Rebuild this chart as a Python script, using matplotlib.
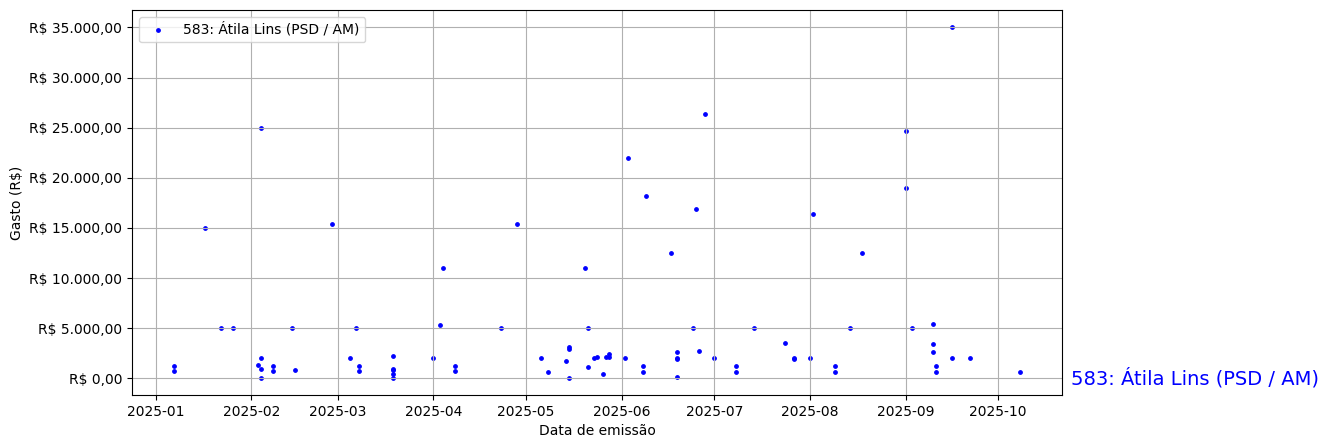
import matplotlib
matplotlib.use("Agg")
import matplotlib.pyplot as plt
import matplotlib.ticker as mticker
import matplotlib.transforms as mtransforms
import pandas as pd

# dados
deputado = "583: Átila Lins (PSD / AM)"

datas = [
    "2025-01-07", "2025-01-07", "2025-01-17", "2025-01-22", "2025-01-26",
    "2025-02-03", "2025-02-04", "2025-02-04", "2025-02-04", "2025-02-04",
    "2025-02-08", "2025-02-08", "2025-02-14", "2025-02-15", "2025-02-27",
    "2025-03-05", "2025-03-07", "2025-03-08", "2025-03-08",
    "2025-03-19", "2025-03-19", "2025-03-19", "2025-03-19", "2025-03-19",
    "2025-04-01", "2025-04-03", "2025-04-04", "2025-04-08", "2025-04-08",
    "2025-04-23", "2025-04-28",
    "2025-05-06", "2025-05-08", "2025-05-14", "2025-05-15", "2025-05-15",
    "2025-05-15", "2025-05-20", "2025-05-21", "2025-05-21", "2025-05-23",
    "2025-05-24", "2025-05-26", "2025-05-27", "2025-05-28", "2025-05-28",
    "2025-06-02", "2025-06-03", "2025-06-08", "2025-06-08", "2025-06-09",
    "2025-06-17", "2025-06-19", "2025-06-19", "2025-06-19", "2025-06-19",
    "2025-06-24", "2025-06-25", "2025-06-26", "2025-06-28",
    "2025-07-01", "2025-07-08", "2025-07-08", "2025-07-14", "2025-07-24",
    "2025-07-27", "2025-07-27",
    "2025-08-01", "2025-08-02", "2025-08-09", "2025-08-09", "2025-08-14",
    "2025-08-18",
    "2025-09-01", "2025-09-01", "2025-09-03", "2025-09-10", "2025-09-10",
    "2025-09-10", "2025-09-11", "2025-09-11", "2025-09-16", "2025-09-16",
    "2025-09-22", "2025-10-08",
]

gastos = [
    1200, 700, 15000, 5000, 5000,
    1370, 970, 70, 2000, 25000,
    1200, 700, 5000, 870, 15400,
    2000, 5000, 1200, 700,
    2200, 970, 800, 470, 70,
    2000, 5350, 11000, 1200, 700,
    5000, 15400,
    2000, 670, 1770, 3160, 2960,
    70, 11000, 1170, 5000, 2000,
    2170, 470, 2170, 2460, 2170,
    2000, 22000, 1200, 670, 18200,
    12500, 2660, 2060, 1960, 170,
    5000, 16900, 2760, 26400,
    2000, 1200, 670, 5000, 3560,
    2060, 1960,
    2000, 16400, 1200, 670, 5000,
    12450,
    24700, 19000, 5000, 5450, 3460,
    2660, 1200, 670, 2060, 35000,
    2060, 670,
]

datas = pd.to_datetime(datas)


def formato_real(v, pos):
    s = f"{v:,.2f}"
    s = s.replace(",", "X").replace(".", ",").replace("X", ".")
    return "R$ " + s


fig, ax = plt.subplots(figsize=(13.28, 4.48), dpi=100)
fig.subplots_adjust(left=0.0994, right=0.7997, top=0.978, bottom=0.118)

ax.scatter(datas, gastos, s=6, color="blue", label=deputado)
ax.grid(True)
ax.yaxis.set_major_formatter(mticker.FuncFormatter(formato_real))
ax.set_xlabel("Data de emissão")
ax.set_ylabel("Gasto (R$)")
ax.legend(loc="upper left")

# nome do deputado ao lado do gráfico
trans = mtransforms.blended_transform_factory(ax.transAxes, ax.transData)
ax.text(1.01, 0, deputado, transform=trans, color="blue", fontsize=14,
        va="center", ha="left")

plt.savefig("out.png", dpi=100)
